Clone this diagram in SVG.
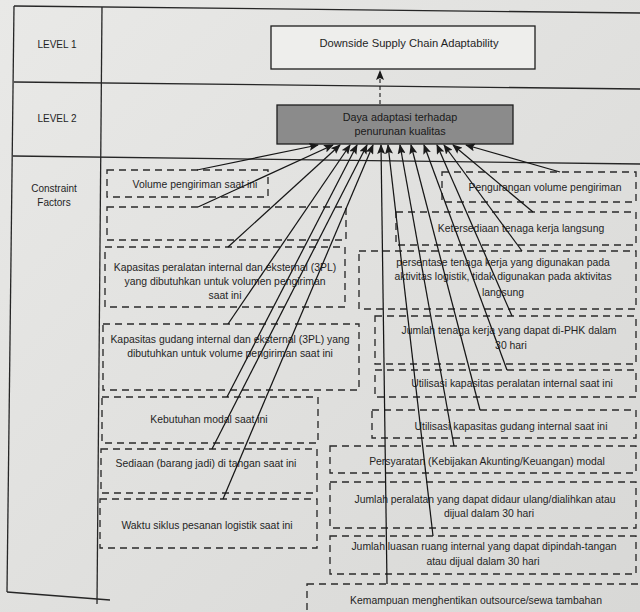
<svg xmlns="http://www.w3.org/2000/svg" width="640" height="612" viewBox="0 0 640 612">
<defs>
<linearGradient id="bg" x1="0" y1="0" x2="1" y2="1">
<stop offset="0" stop-color="#e9e9e7"/>
<stop offset="1" stop-color="#d8d8d6"/>
</linearGradient>
<marker id="ah" markerUnits="userSpaceOnUse" markerWidth="10" markerHeight="8" refX="9" refY="4" orient="auto">
<path d="M0,0 L10,4 L0,8 L2,4 z" fill="#1a1a1a"/>
</marker>
<style>
text{font-family:"Liberation Sans",Arial,sans-serif;fill:#1f1f1f;font-size:10.4px;}
.c{text-anchor:middle;}
.grid{stroke:#262626;stroke-width:1.3;fill:none;}
.db{fill:none;stroke:#2a2a2a;stroke-width:1.35;stroke-dasharray:7 5;}
.cn{stroke:#161616;stroke-width:1.25;fill:none;marker-end:url(#ah);}
</style>
</defs>
<rect x="0" y="0" width="640" height="612" fill="url(#bg)"/>

<g id="table">
<line class="grid" x1="14" y1="6" x2="640" y2="13"/>
<line class="grid" x1="14" y1="82" x2="640" y2="89"/>
<line class="grid" x1="13" y1="156" x2="640" y2="164"/>
<line class="grid" x1="14" y1="6" x2="7" y2="592"/>
<line class="grid" x1="102" y1="7" x2="97" y2="604"/>
<line class="grid" x1="7" y1="592" x2="110" y2="600"/>
<text x="57" y="48" class="c" style="font-size:10px">LEVEL 1</text>
<text x="57" y="122" class="c" style="font-size:10px">LEVEL 2</text>
<text x="54" y="192" class="c" style="font-size:10px">Constraint</text>
<text x="54" y="206" class="c" style="font-size:10px">Factors</text>
</g>

<g id="level1">
<rect x="271" y="26" width="264" height="43" fill="#eeeeec" stroke="#1e1e1e" stroke-width="1.3"/>
<text x="409" y="47" class="c" style="font-size:11.2px">Downside Supply Chain Adaptability</text>
</g>

<g id="level2">
<rect x="277" y="105" width="236" height="39" fill="#8b8b8b" stroke="#1e1e1e" stroke-width="1.3"/>
<text x="400" y="121" class="c" style="font-size:10.8px;fill:#1a1a1a">Daya adaptasi terhadap</text>
<text x="400" y="135" class="c" style="font-size:10.8px;fill:#1a1a1a">penurunan kualitas</text>
</g>

<g id="c1"><rect class="db" x="107" y="170" width="161" height="27"/><text x="195" y="188" class="c">Volume pengiriman saat ini</text></g>
<g id="c2"><rect class="db" x="107" y="207" width="239" height="33"/></g>
<g id="c3"><rect class="db" x="105" y="247" width="240" height="60"/>
<text x="225" y="271" class="c">Kapasitas peralatan internal dan eksternal (3PL)</text>
<text x="225" y="285" class="c">yang dibutuhkan untuk volumen pengiriman</text>
<text x="225" y="299" class="c">saat ini</text></g>
<g id="c4"><rect class="db" x="103" y="324" width="256" height="66"/>
<text x="230" y="343" class="c">Kapasitas gudang internal dan eksternal (3PL) yang</text>
<text x="230" y="357" class="c">dibutuhkan untuk volume pengiriman saat ini</text></g>
<g id="c5"><rect class="db" x="102" y="397" width="216" height="46"/><text x="209" y="423" class="c">Kebutuhan modal saat ini</text></g>
<g id="c6"><rect class="db" x="101" y="449" width="216" height="44"/><text x="206" y="467" class="c">Sediaan (barang jadi) di tangan saat ini</text></g>
<g id="c7"><rect class="db" x="100" y="499" width="217" height="49"/><text x="207" y="529" class="c">Waktu siklus pesanan logistik saat ini</text></g>

<g id="c8"><rect class="db" x="442" y="172" width="194" height="30"/><text x="545" y="191" class="c">Pengurangan volume pengiriman</text></g>
<g id="c9"><rect class="db" x="396" y="212" width="240" height="33"/><text x="521" y="232" class="c">Ketersediaan tenaga kerja langsung</text></g>
<g id="c10"><rect class="db" x="359" y="251" width="277" height="58"/>
<text x="503" y="266" class="c">persentase tenaga kerja yang digunakan pada</text>
<text x="503" y="280" class="c">aktivitas logistik, tidak digunakan pada aktivitas</text>
<text x="503" y="296" class="c">langsung</text></g>
<g id="c11"><rect class="db" x="375" y="316" width="261" height="48"/>
<text x="509" y="334" class="c">Jumlah tenaga kerja yang dapat di-PHK dalam</text>
<text x="511" y="349" class="c">30 hari</text></g>
<g id="c12"><rect class="db" x="375" y="370" width="261" height="27"/><text x="512" y="387" class="c">Utilisasi kapasitas peralatan internal saat ini</text></g>
<g id="c13"><rect class="db" x="372" y="410" width="264" height="28"/><text x="511" y="430" class="c">Utilisasi kapasitas gudang internal saat ini</text></g>
<g id="c14"><rect class="db" x="330" y="446" width="306" height="27"/><text x="487" y="465" class="c">Persyaratan (Kebijakan Akunting/Keuangan) modal</text></g>
<g id="c15"><rect class="db" x="330" y="482" width="306" height="46"/>
<text x="485" y="503" class="c">Jumlah peralatan yang dapat didaur ulang/dialihkan atau</text>
<text x="489" y="517" class="c">dijual dalam 30 hari</text></g>
<g id="c16"><rect class="db" x="330" y="536" width="306" height="38"/>
<text x="484" y="550" class="c">Jumlah luasan ruang internal yang dapat dipindah-tangan</text>
<text x="483" y="565" class="c">atau dijual dalam 30 hari</text></g>
<g id="c17"><rect class="db" x="307" y="584" width="345" height="40"/><text x="476" y="604" class="c">Kemampuan menghentikan outsource/sewa tambahan</text></g>

<g id="connectors">
<line x1="380" y1="104" x2="380" y2="71" stroke="#1a1a1a" stroke-width="1.1" stroke-dasharray="4 3" marker-end="url(#ah)"/>
<line class="cn" x1="197" y1="170" x2="318" y2="145"/>
<line class="cn" x1="198" y1="207" x2="333" y2="145"/>
<line class="cn" x1="228" y1="247" x2="340" y2="145"/>
<line class="cn" x1="228" y1="324" x2="350" y2="145"/>
<line class="cn" x1="227" y1="397" x2="357" y2="145"/>
<line class="cn" x1="212" y1="449" x2="367" y2="145"/>
<line class="cn" x1="223" y1="499" x2="373" y2="145"/>
<line class="cn" x1="387" y1="584" x2="381" y2="145"/>
<line class="cn" x1="433" y1="536" x2="388" y2="145"/>
<line class="cn" x1="454" y1="446" x2="400" y2="145"/>
<line class="cn" x1="480" y1="410" x2="411" y2="145"/>
<line class="cn" x1="507" y1="370" x2="424" y2="145"/>
<line class="cn" x1="512" y1="316" x2="437" y2="145"/>
<line class="cn" x1="522" y1="251" x2="444" y2="145"/>
<line class="cn" x1="533" y1="212" x2="453" y2="145"/>
<line class="cn" x1="560" y1="172" x2="466" y2="145"/>
</g>
</svg>
